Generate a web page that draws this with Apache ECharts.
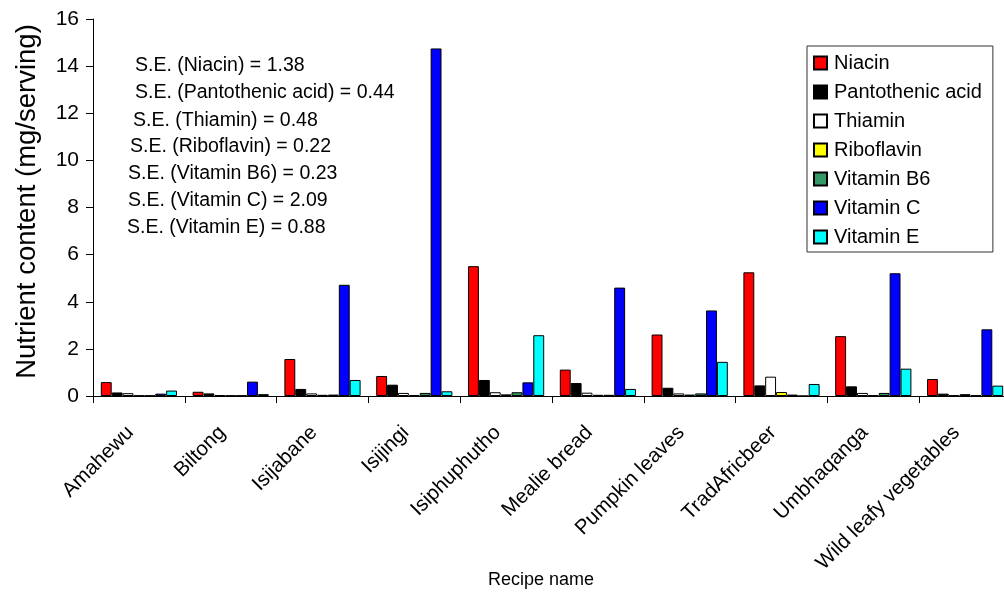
<!DOCTYPE html>
<html>
<head>
<meta charset="utf-8">
<script src="https://cdn.jsdelivr.net/npm/echarts@6/dist/echarts.min.js"></script>
<style>
html,body{margin:0;padding:0;background:#fff;}
#chart{width:1004px;height:595px;}
</style>
</head>
<body>
<div id="chart"></div>
<script>
const categories = ['Amahewu','Biltong','Isijabane','Isijingi','Isiphuphutho','Mealie bread','Pumpkin leaves','TradAfricbeer','Umbhaqanga','Wild leafy vegetables'];
const niacin      = [0.59, 0.18, 1.57, 0.85, 5.51, 1.12, 2.61, 5.25, 2.54, 0.72];
const pantothenic = [0.15, 0.11, 0.30, 0.48, 0.68, 0.55, 0.35, 0.45, 0.41, 0.10];
const thiamin     = [0.12, 0.04, 0.11, 0.13, 0.16, 0.14, 0.11, 0.82, 0.13, 0.03];
const riboflavin  = [0.02, 0.02, 0.05, 0.04, 0.07, 0.05, 0.06, 0.17, 0.04, 0.08];
const vitaminB6   = [0.02, 0.02, 0.06, 0.13, 0.16, 0.05, 0.11, 0.06, 0.13, 0.03];
const vitaminC    = [0.10, 0.61, 4.72, 14.75, 0.58, 4.60, 3.63, 0.00, 5.21, 2.83];
const vitaminE    = [0.23, 0.08, 0.68, 0.20, 2.58, 0.30, 1.45, 0.51, 1.16, 0.44];
const seriesNames = ['Niacin','Pantothenic acid','Thiamin','Riboflavin','Vitamin B6','Vitamin C','Vitamin E'];
const seriesColors = ['#FF0000','#000000','#FFFFFF','#FFFF00','#339966','#0000FF','#00FFFF'];
const yTicks = { min: 0, max: 16, interval: 2 };
const seNotes = [
  'S.E. (Niacin) = 1.38',
  'S.E. (Pantothenic acid) = 0.44',
  'S.E. (Thiamin) = 0.48',
  'S.E. (Riboflavin) = 0.22',
  'S.E. (Vitamin B6) = 0.23',
  'S.E. (Vitamin C) = 2.09',
  'S.E. (Vitamin E) = 0.88'
];
const seriesData = [niacin, pantothenic, thiamin, riboflavin, vitaminB6, vitaminC, vitaminE];

const FONT = 'Liberation Sans, Arial, sans-serif';
const noteLeft = [135, 135, 133, 130, 128, 128, 127];
const noteCenterY = [67, 94, 122, 148, 175, 202, 229];

const chart = echarts.init(document.getElementById('chart'), null, {renderer: 'canvas'});
chart.setOption({
  animation: false,
  backgroundColor: '#fff',
  textStyle: { fontFamily: FONT, color: '#000' },
  grid: { left: 93, top: 19, width: 918, height: 377, outerBoundsMode: 'none', containLabel: false },
  legend: {
    orient: 'vertical',
    left: 807,
    top: 46,
    padding: [7, 11, 5, 6],
    itemGap: 9,
    itemWidth: 13,
    itemHeight: 13,
    icon: 'rect',
    backgroundColor: '#fff',
    borderColor: '#333',
    borderWidth: 1,
    borderRadius: 0,
    textStyle: { fontFamily: FONT, fontSize: 20, color: '#000', padding: [0,0,0,2] },
    data: seriesNames
  },
  xAxis: {
    type: 'category',
    data: categories,
    name: 'Recipe name',
    nameLocation: 'middle',
    nameGap: 175,
    nameMoveOverlap: false,
    nameTextStyle: { fontFamily: FONT, fontSize: 18, color: '#000', padding: [0, 22, 0, 0] },
    axisLine: { lineStyle: { color: '#000', width: 1 } },
    axisTick: { show: true, length: 7, lineStyle: { color: '#000' } },
    axisLabel: { rotate: 45, margin: 25, fontFamily: FONT, fontSize: 20.5, color: '#000', interval: 0, padding: [0, 12, 7, 0] }
  },
  yAxis: {
    type: 'value',
    min: yTicks.min, max: yTicks.max, interval: yTicks.interval,
    name: 'Nutrient content (mg/serving)',
    nameLocation: 'middle',
    nameGap: 52,
    nameMoveOverlap: false,
    nameTextStyle: { fontFamily: FONT, fontSize: 27.5, color: '#000', padding: [0, 0, 0, 12] },
    axisLine: { show: true, lineStyle: { color: '#000', width: 1 } },
    axisTick: { show: true, length: 7, lineStyle: { color: '#000' } },
    splitLine: { show: false },
    axisLabel: { margin: 14, fontFamily: FONT, fontSize: 21, color: '#000' }
  },
  graphic: seNotes.map((t, i) => ({
    type: 'text',
    left: noteLeft[i],
    top: noteCenterY[i] - 11,
    style: { text: t, font: '19.5px ' + FONT, fill: '#000' }
  })),
  series: seriesNames.map((n, i) => ({
    name: n,
    type: 'bar',
    data: seriesData[i],
    barGap: '0%',
    barCategoryGap: '17%',
    itemStyle: { color: seriesColors[i], borderColor: '#000', borderWidth: 1 }
  }))
});
</script>
</body>
</html>
